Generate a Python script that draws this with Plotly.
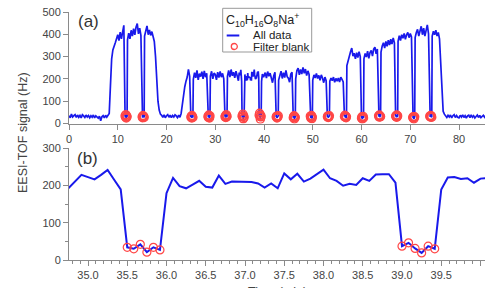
import numpy as np
import plotly.graph_objects as go

# ---------------- data ----------------
# coarse series (0.25 min step) before the zoomed window; None = inside a filter-blank window
early_start = 0.0
early_step = 0.25
early_vals = [
    35, 26, 42, 29,   35, 40, 27, 38,   28, 36, 25, 39,   34, 27, 38, 29,
    36, 26, 35, 28,   38, 25, 34, 27,   24, 33, 12, 30,   35, 25, 37, 28,
    40, 45, 170, 290, 330, 352, 362, 380, 398, 372, 410, 380, 412, 440, None, None,
    375, 405, 380, 418, 392, 425, 398, 432, 448, 402, 428, 395, None, None, 392, 415,
    438, 398, 420, 395, 412, 390, 368, 300, 190, 100, 60, 42, 37, 28, 39, 26,
    35, 40, 28, 37,   27, 36, 29, 39,   34, 26, 37, 28,   45, 90, 140, 165,
    190, 208, 243, 212, None, None, 198, 228, 205, 238, 196, 224, 210, 232, 200, 236,
    208, 225, None, None, 212, 234, 200, 226, 220, 196, 230, 206, 234, 208, 225, 200,
    None, None, 212, 238, 208, 242, 214, 230, 205, 235, 212,
]

# detailed series (5 s step) in the zoomed window shown in panel (b)
zoom_start = 34.75
zoom_step = 1.0 / 12.0
zoom_vals = [
    192, 210, 228, 222, 216, 228, 241, 215, 189,
    34, 30, 42, 21, 34, 27,
    179, 220, 198, 192, 202, 212, 196, 194, 226, 204, 210, 209, 208, 209, 205, 194,
    205, 192, 232, 216, 231, 210, 218, 229, 242, 219, 212, 199, 204, 201, 219, 212,
    229, 230, 230, 207,
    37, 46, 31, 19, 37, 30,
    189, 221, 222, 217, 219, 207, 218, 219,
]

# coarse series after the zoomed window
late_start = 40.25
late_step = 0.25
late_vals = [
    228, 204, 233,
    212, 226, 196, 183,   214, 230, None, None,   195, 218, 235, 202,   228, 206, 238, 210,
    203, 185, 222, 230,   None, None, 200, 238,   248, 218, 242, 222,   252, 225, 244, 215,
    236, 220, None, None, 195, 218, 204, 224,   202, 216, 194, 218,   204, 183, 208, 192,
    None, None, 190, 204, 192, 208, 185, 202,   190, 204, 186, 208,   198, 186, None, None,
    260, 285, 302, 322,   338, 302, 315, 290,   318, 296, 322, 300,   None, None, 290, 314,
    298, 324, 292, 318,   328, 302, 334, 342,   312, 334, None, None, 320, 348, 362, 338,
    368, 346, 374, 352,   378, 356, 384, 362,   None, None, 368, 394, 372, 398, 382, 404,
    378, 398, 408, 385,   404, 388, None, None, 385, 408, 422, 392,   412, 436, 398, 428,
    392, 418, 442, 402,   None, None, 392, 414, 398, 418, 392, 408,   380, 260, 110, 55,
    42, 31, 27, 37,   29, 38, 25, 35,   40, 27, 36, 28,   25, 37, 29, 39,
    27, 35, 24, 34,   37, 26, 39, 28,   35, 25, 33, 38,   27, 36, 26, 34,
    37, 28, 35, 26,   31,
]

# filter-blank periods: start times (min), 6 samples each (5 s apart)
blank_starts = [11.5, 15.0, 25.0, 28.5, 32.0, 35.5, 39.0, 42.5, 46.0,
                49.5, 53.0, 56.5, 60.0, 63.5, 67.0, 70.5, 74.0]
blank_vals = {  # blanks outside the zoomed window (those inside come from zoom_vals)
    11.5: [35, 28, 40, 25, 33, 30],
    15.0: [30, 26, 36, 28, 32, 27],
    25.0: [28, 33, 25, 36, 30, 27],
    28.5: [32, 27, 38, 30, 25, 34],
    32.0: [30, 35, 27, 40, 29, 33],
    42.5: [29, 33, 25, 31, 28, 35],
    46.0: [26, 31, 35, 20, 30, 27],
    49.5: [33, 25, 30, 36, 22, 29],
    53.0: [30, 34, 27, 32, 29, 35],
    56.5: [31, 37, 28, 33, 26, 30],
    60.0: [24, 30, 20, 27, 32, 25],
    63.5: [35, 30, 38, 29, 33, 31],
    67.0: [32, 36, 28, 38, 30, 34],
    70.5: [28, 24, 31, 20, 27, 30],
    74.0: [33, 29, 36, 30, 34, 28],
}
blank_len = 5.0 / 12.0

top_xticks = list(range(0, 90, 10))
legend_title = "C<sub>10</sub>H<sub>16</sub>O<sub>8</sub>Na<sup>+</sup>"

# ---------------- assemble ----------------
def in_blank(t):
    return any(s - 1e-6 <= t <= s + blank_len + 1e-6 for s in blank_starts)

pts = []
for start, step, vals in [(early_start, early_step, early_vals), (late_start, late_step, late_vals)]:
    for i, v in enumerate(vals):
        t = start + step * i
        if v is not None and not in_blank(t):
            pts.append((t, v))
zoom_t = [zoom_start + zoom_step * i for i in range(len(zoom_vals))]
pts += list(zip(zoom_t, zoom_vals))
for s, vals in blank_vals.items():
    for k, v in enumerate(vals):
        pts.append((s + k * zoom_step, v))
pts.sort()
all_t = [p[0] for p in pts]
all_v = [p[1] for p in pts]
bl_t = [t for t in all_t if in_blank(t)]
bl_v = [v for t, v in pts if in_blank(t)]
zb_t = [t for t in zoom_t if in_blank(t)]
zb_v = [v for t, v in zip(zoom_t, zoom_vals) if in_blank(t)]

# ---------------- figure ----------------
W, H = 485, 288
L = 69
BLUE = "rgb(25,25,235)"
RED = "rgb(255,70,70)"
AX = "#8a8a8a"
TXT = "#444444"
FONT = "Liberation Sans, Arial, sans-serif"

def py(p):  # pixel y -> paper
    return 1 - p / H

def px(p):  # pixel x -> paper
    return (p - L) / (W - L)

fig = go.Figure()
fig.add_trace(go.Scatter(x=all_t, y=all_v, mode="lines", line=dict(color=BLUE, width=1.7),
                         name="All data", xaxis="x", yaxis="y", showlegend=False))
fig.add_trace(go.Scatter(x=bl_t, y=bl_v, mode="markers",
                         marker=dict(symbol="circle-open", size=8, color=RED, line=dict(width=1.4, color=RED)),
                         name="Filter blank", xaxis="x", yaxis="y", showlegend=False))
fig.add_trace(go.Scatter(x=zoom_t, y=zoom_vals, mode="lines", line=dict(color=BLUE, width=2),
                         name="All data", xaxis="x2", yaxis="y2", showlegend=False))
fig.add_trace(go.Scatter(x=zb_t, y=zb_v, mode="markers",
                         marker=dict(symbol="circle-open", size=8, color=RED, line=dict(width=1.2, color=RED)),
                         name="Filter blank", xaxis="x2", yaxis="y2", showlegend=False))

axcommon = dict(showline=True, linecolor=AX, linewidth=1, ticks="outside", tickcolor=AX,
                ticklen=5, tickwidth=1, showgrid=False, zeroline=False, automargin=False,
                tickfont=dict(family=FONT, size=11, color=TXT))

top_xmax = (W - L) / 4.875
bot_x0 = 34.758
bot_xmax = bot_x0 + (W - L) / 78.5

fig.update_layout(
    width=W, height=H, template="none",
    margin=dict(l=L, r=0, t=0, b=0),
    paper_bgcolor="white", plot_bgcolor="white",
    font=dict(family=FONT, color=TXT),
    xaxis=dict(axcommon, domain=[0, 1], range=[0, top_xmax], tickvals=top_xticks, anchor="y"),
    yaxis=dict(axcommon, domain=[py(123.5), py(12)], range=[0, 500], dtick=100, anchor="x"),
    xaxis2=dict(axcommon, domain=[0, 1], range=[bot_x0, bot_xmax], dtick=0.5, tick0=35,
                tickformat=".1f", anchor="y2",
                minor=dict(dtick=0.1, ticks="outside", ticklen=3, tickcolor=AX)),
    yaxis2=dict(axcommon, domain=[py(260), py(148)], range=[0, 300], dtick=100, anchor="x2",
                minor=dict(dtick=50, ticks="outside", ticklen=3, tickcolor=AX)),
)

ann = [
    dict(text="EESI-TOF signal (Hz)", x=px(23), y=py(133), textangle=-90,
         font=dict(size=12.5, color=TXT)),
    dict(text="Time (min)", x=px(277), y=py(283.5), yanchor="top",
         font=dict(size=12.5, color=TXT)),
    dict(text="(a)", x=px(77), y=py(21.5), xanchor="left", font=dict(size=17, color="#333")),
    dict(text="(b)", x=px(76), y=py(158.5), xanchor="left", font=dict(size=17, color="#333")),
    dict(text=legend_title, x=px(224.5), y=py(19.5), xanchor="left", font=dict(size=12.5, color="#222")),
    dict(text="All data", x=px(252), y=py(35.5), xanchor="left", font=dict(size=11.5, color="#222")),
    dict(text="Filter blank", x=px(251.5), y=py(46.5), xanchor="left", font=dict(size=11.5, color="#222")),
]
for a in ann:
    a.update(xref="paper", yref="paper", showarrow=False)
    a.setdefault("xanchor", "center")
    a.setdefault("yanchor", "middle")
    a["borderpad"] = 0
    fig.add_annotation(**a)

shapes = [
    dict(type="rect", x0=px(222.7), x1=px(311.7), y0=py(52), y1=py(8.3),
         line=dict(color="#999999", width=1), fillcolor="white", layer="above"),
    dict(type="line", x0=px(226.7), x1=px(239.3), y0=py(35.5), y1=py(35.5),
         line=dict(color=BLUE, width=2)),
    dict(type="circle", x0=px(231.3), x1=px(237.3), y0=py(49.5), y1=py(43.5),
         line=dict(color=RED, width=1.3)),
]
for s in shapes:
    s.update(xref="paper", yref="paper")
    fig.add_shape(**s)

fig.write_html("out.html")
